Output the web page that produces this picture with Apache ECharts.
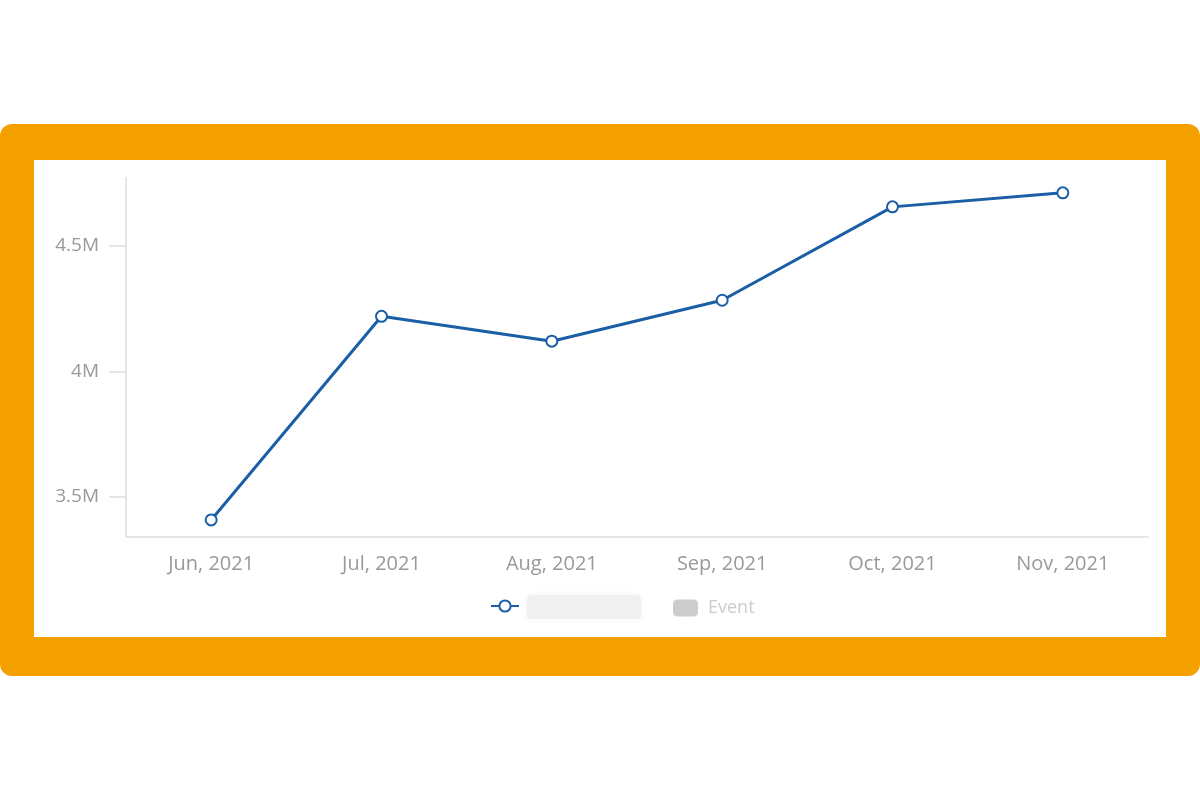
<!DOCTYPE html>
<html>
<head>
<meta charset="utf-8">
<script src="https://cdn.jsdelivr.net/npm/echarts@6/dist/echarts.min.js"></script>
<style>
html,body{margin:0;padding:0;background:#fff;}
#c{width:1200px;height:800px;}
</style>
</head>
<body>
<div id="c"></div>
<script>
const categories = ['Jun, 2021', 'Jul, 2021', 'Aug, 2021', 'Sep, 2021', 'Oct, 2021', 'Nov, 2021'];
const seriesValues = [3408000, 4219000, 4120000, 4283000, 4655000, 4711000];
const eventValues = [];
const yTicks = [3500000, 4000000, 4500000];
const seriesName = 'Series';
const eventName = 'Event';

const chart = echarts.init(document.getElementById('c'), null, {renderer: 'canvas'});
const FONT = '"Open Sans", sans-serif';
const option = {
  backgroundColor: '#ffffff',
  animation: false,
  graphic: [
    {type: 'rect', z: -10, shape: {x: 0, y: 124, width: 1200, height: 552, r: 12}, style: {fill: '#F4A100'}},
    {type: 'rect', z: -9, shape: {x: 34, y: 160, width: 1132, height: 477}, style: {fill: '#ffffff'}},
    {type: 'rect', z: 10, shape: {x: 527, y: 595, width: 114, height: 24, r: 4}, style: {fill: '#f0f0f0', shadowBlur: 8, shadowColor: '#f3f3f3'}}
  ],
  grid: {left: 126, right: 52, top: 178, bottom: 263, containLabel: false},
  legend: [
    {
      data: [seriesName], left: 485, top: 594, itemWidth: 28, itemHeight: 14,
      formatter: () => '', textStyle: {color: 'transparent'}
    },
    {
      data: [eventName], left: 668, top: 594, itemWidth: 25, itemHeight: 17, icon: 'roundRect', itemGap: 10,
      selected: {[eventName]: false}, inactiveColor: '#cccccc',
      textStyle: {fontFamily: FONT, fontSize: 18, color: '#cccccc', padding: [0, 0, 0, 5]}
    }
  ],
  xAxis: {
    type: 'category', data: categories, boundaryGap: true,
    axisLine: {lineStyle: {color: '#e6e6e6', width: 2}},
    axisTick: {alignWithLabel: true, length: 10, lineStyle: {color: '#e6e6e6', width: 2}},
    axisLabel: {color: '#999999', fontFamily: FONT, fontSize: 20, margin: 17}
  },
  yAxis: {
    type: 'value', min: 3340000, max: 4770000,
    axisLine: {show: true, lineStyle: {color: '#e6e6e6', width: 2}},
    axisTick: {show: true, length: 17, customValues: yTicks, lineStyle: {color: '#e6e6e6', width: 2}},
    axisLabel: {customValues: yTicks, color: '#999999', fontFamily: FONT, fontSize: 19, margin: 27,
      padding: [8, 0, 0, 0],
      formatter: v => (v / 1e6) + 'M'},
    splitLine: {show: false}
  },
  series: [
    {
      name: seriesName, type: 'line', data: seriesValues,
      symbol: 'emptyCircle', symbolSize: 11,
      lineStyle: {color: '#1a5ea6', width: 3},
      itemStyle: {color: '#1a5ea6', borderWidth: 2, borderColor: '#1a5ea6'}
    },
    {name: eventName, type: 'bar', data: eventValues, itemStyle: {color: '#cccccc'}}
  ]
};
chart.setOption(option);
</script>
</body>
</html>
